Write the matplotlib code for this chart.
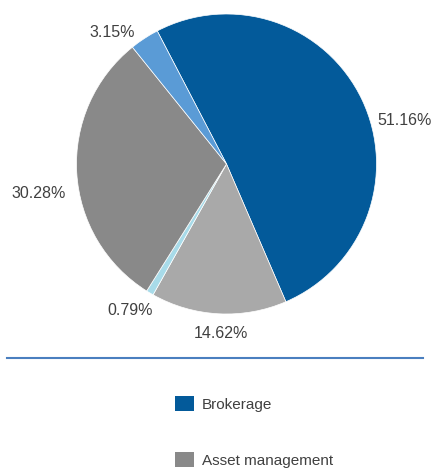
import numpy as np
import matplotlib
matplotlib.use("Agg")
import matplotlib.pyplot as plt
from matplotlib.patches import Patch
from matplotlib.lines import Line2D

plt.rcParams['font.family'] = ['Liberation Sans', 'DejaVu Sans']

# Data
segments = ["Brokerage", "Other 1", "Other 2", "Asset management", "Other 3"]
shares = [51.16, 14.62, 0.79, 30.28, 3.15]
pct_labels = ["51.16%", "14.62%", "0.79%", "30.28%", "3.15%"]
colors = ["#035a9a", "#a9a9a9", "#a8dbe9", "#898989", "#5a9bd6"]
legend_names = ["Brokerage", "Asset management"]
legend_colors = ["#035a9a", "#898989"]

# label nudges (style), in pixels: (right, down)
label_nudge = [(6, 25), (3, 2), (8, 9), (0, 20), (-4, 3)]

W, H = 435, 469
fig = plt.figure(figsize=(W / 100, H / 100), dpi=100)
ax = fig.add_axes([0, 0, 1, 1])

cx, cy, R = 226.5, H - 164, 150
wedges, _ = ax.pie(shares, colors=colors, startangle=117.5, counterclock=False,
                   center=(cx, cy), radius=R, frame=True,
                   wedgeprops=dict(linewidth=0.5, edgecolor='white'))
ax.set_xlim(0, W)
ax.set_ylim(0, H)
ax.set_aspect('equal')
ax.axis('off')

for w, lab, (nx, ny) in zip(wedges, pct_labels, label_nudge):
    ang = np.deg2rad((w.theta1 + w.theta2) / 2)
    x = np.cos(ang)
    y = np.sin(ang)
    if abs(x) < 0.25:
        ha = 'center'
        r = R * 1.12
    else:
        ha = 'left' if x > 0 else 'right'
        r = R * 1.07
    ax.text(cx + r * x + nx, cy + r * y - ny, lab, ha=ha, va='center',
            fontsize=11.5, color='#404040')

fig.add_artist(Line2D([7 / W, 423 / W], [1 - 358 / H, 1 - 358 / H],
                      color='#4a7fbf', lw=1.5))

handles = [Patch(facecolor=c, edgecolor='none') for c in legend_colors]
fig.legend(handles, legend_names, loc='upper left',
           bbox_to_anchor=(170 / W, 1 - 391 / H), frameon=False,
           fontsize=11, labelcolor='#404040', handlelength=1.25,
           handleheight=1.2, handletextpad=0.55, labelspacing=2.62,
           borderaxespad=0, borderpad=0.3)

fig.savefig("out.png", dpi=100)
